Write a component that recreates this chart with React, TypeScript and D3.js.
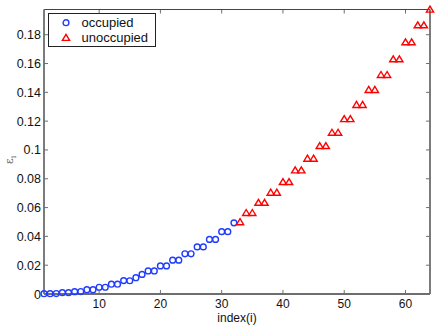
import React from "react";
import * as d3 from "d3";

// eigenvalues, index 1..32 occupied, 33..64 unoccupied
const occupied = [
  0.0002, 0.0002, 0.0003, 0.0009, 0.0009, 0.0016, 0.0017, 0.003, 0.003, 0.0047,
  0.0047, 0.0068, 0.0068, 0.0093, 0.0092, 0.0113, 0.0136, 0.016, 0.016, 0.0195,
  0.0195, 0.0235, 0.0235, 0.0279, 0.0279, 0.0327, 0.0327, 0.0379, 0.0379, 0.0433,
  0.0433, 0.0494,
];
const unoccupied = [
  0.0499, 0.0563, 0.0563, 0.0634, 0.0634, 0.0704, 0.0704, 0.0778, 0.0778, 0.0859,
  0.0859, 0.094, 0.094, 0.1028, 0.1028, 0.112, 0.112, 0.1215, 0.1215, 0.1313,
  0.1313, 0.1417, 0.1417, 0.1521, 0.1521, 0.163, 0.163, 0.1748, 0.1748, 0.1866,
  0.1866, 0.1975,
];
const xTicks = [10, 20, 30, 40, 50, 60];
const yTicks = [0, 0.02, 0.04, 0.06, 0.08, 0.1, 0.12, 0.14, 0.16, 0.18];
const legendLabels = ["occupied", "unoccupied"];

const W = 436;
const H = 327;
const margin = { top: 9.5, right: 6, bottom: 33, left: 44 };
const font = "'Liberation Sans', Arial, sans-serif";
const blue = "#1f3cff";
const red = "#ff0000";
const axisColor = "#6e6e6e";

const Circle = ({ x, y }: { x: number; y: number }) => (
  <circle cx={x} cy={y} r={2.9} fill="none" stroke={blue} strokeWidth={1.4} />
);

const Triangle = ({ x, y }: { x: number; y: number }) => (
  <path
    d={`M${x},${y - 3.4} L${x + 3.6},${y + 2.6} L${x - 3.6},${y + 2.6} Z`}
    fill="none"
    stroke={red}
    strokeWidth={1.4}
    strokeLinejoin="miter"
  />
);

const App = () => {
  const all = [...occupied, ...unoccupied];
  const x = d3
    .scaleLinear()
    .domain([1, all.length])
    .range([margin.left, W - margin.right]);
  const y = d3
    .scaleLinear()
    .domain([0, d3.max(all) as number])
    .range([H - margin.bottom, margin.top]);

  const x0 = x.range()[0];
  const x1 = x.range()[1];
  const y0 = y.range()[0];
  const y1 = y.range()[1];
  const tickLen = 4;
  const fmt = (d: number) => String(+d.toFixed(2));

  return (
    <svg
      width={W}
      height={H}
      style={{ position: "absolute", left: 0, top: 0, background: "white" }}
      fontFamily={font}
    >
      <rect x={0} y={0} width={W} height={H} fill="white" />

      {/* ticks on all four sides, pointing in */}
      {xTicks.map((d) => (
        <g key={"xt" + d}>
          <line x1={x(d)} x2={x(d)} y1={y0} y2={y0 - tickLen} stroke={axisColor} />
          <line x1={x(d)} x2={x(d)} y1={y1} y2={y1 + tickLen} stroke={axisColor} />
          <text x={x(d)} y={y0 + 14.2} textAnchor="middle" fontSize={12} fill="#111">
            {d}
          </text>
        </g>
      ))}
      {yTicks.map((d) => (
        <g key={"yt" + d}>
          <line x1={x0} x2={x0 + tickLen} y1={y(d)} y2={y(d)} stroke={axisColor} />
          <line x1={x1} x2={x1 - tickLen} y1={y(d)} y2={y(d)} stroke={axisColor} />
          <text x={x0 - 3} y={y(d) + 4.5} textAnchor="end" fontSize={12.5} fill="#111">
            {fmt(d)}
          </text>
        </g>
      ))}

      {/* frame */}
      <line x1={x0} x2={x1} y1={y1} y2={y1} stroke="#444" strokeWidth={1} />
      <line x1={x1} x2={x1} y1={y1} y2={y0} stroke={axisColor} strokeWidth={1.8} />
      <line x1={x0} x2={x1} y1={y0} y2={y0} stroke={axisColor} strokeWidth={1.8} />
      <line x1={x0} x2={x0} y1={y1} y2={y0} stroke={axisColor} strokeWidth={1.8} />

      {occupied.map((v, i) => (
        <Circle key={"o" + i} x={x(i + 1)} y={y(v)} />
      ))}
      {unoccupied.map((v, i) => (
        <Triangle key={"u" + i} x={x(occupied.length + i + 1)} y={y(v)} />
      ))}

      <text x={(x0 + x1) / 2} y={y0 + 28} textAnchor="middle" fontSize={12} fill="#111">
        index(i)
      </text>
      <text
        transform={`translate(13, ${(y0 + y1) / 2 + 8}) rotate(-90)`}
        textAnchor="middle"
        fontSize={11}
        fill="#666"
        fontFamily="'DejaVu Serif', serif"
      >
        ε<tspan fontSize={8} dy={3}>i</tspan>
      </text>

      {/* legend */}
      <g transform="translate(48.5, 13.5)">
        <rect width={107} height={33} fill="white" stroke="#222" strokeWidth={1} />
        <Circle x={17.5} y={9.2} />
        <text x={33} y={13.5} fontSize={13} fill="#111">{legendLabels[0]}</text>
        <Triangle x={17.5} y={24.3} />
        <text x={33} y={28.5} fontSize={13} fill="#111">{legendLabels[1]}</text>
      </g>
    </svg>
  );
};

export default App;
